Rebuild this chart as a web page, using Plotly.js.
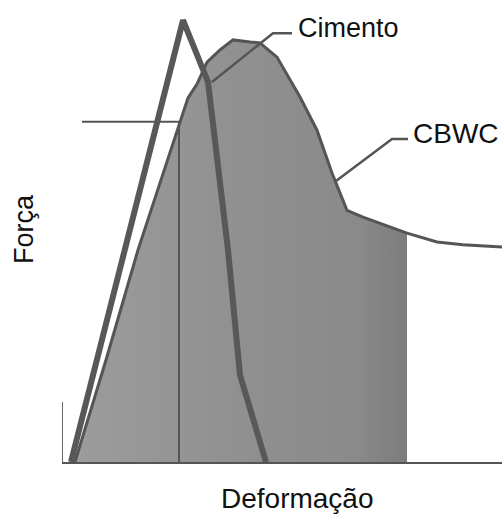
<!DOCTYPE html>
<html>
<head>
<meta charset="utf-8">
<script src="https://cdn.plot.ly/plotly-3.0.1.min.js"></script>
<style>html,body{margin:0;padding:0;background:#fff;}#chart{width:502px;height:514px;}</style>
</head>
<body>
<div id="chart"></div>
<script>
// Deformação (x) and Força (y), arbitrary units
const cimentoX = [0.225, 3.025, 3.65, 4.15, 4.45, 5.1];
const cimentoY = [0, 10.52, 9.05, 5.05, 2.07, 0];

const cbwcX = [0.325, 1.1, 1.9, 2.95, 3.15, 3.375, 3.625, 3.95, 4.275, 4.7, 4.95, 5.375, 5.525, 5.95, 6.375, 6.75, 7.125, 7.525, 8.625, 9.375, 10.025, 11.0];
const cbwcY = [0, 2.43, 5.05, 8.1, 8.67, 9.0, 9.52, 9.81, 10.05, 10.0, 9.98, 9.64, 9.4, 8.69, 7.9, 6.88, 5.99, 5.83, 5.45, 5.24, 5.17, 5.12];
const fillEndX = 8.625;

// reference (yield) line and short y-axis stub
const refLineX = [0.5, 2.95, 2.925, 2.925];
const refLineY = [8.1, 8.1, 8.1, 0];
const axisStubX = [0, 0];
const axisStubY = [0, 1.43];

// label pointers
const cimentoPtrX = [5.75, 5.275, 3.75];
const cimentoPtrY = [10.21, 10.21, 9.05];
const cbwcPtrX = [8.65, 8.25, 6.825];
const cbwcPtrY = [7.69, 7.69, 6.67];

const labels = {cimento: 'Cimento', cbwc: 'CBWC', x: 'Deformação', y: 'Força'};

const fillX = cbwcX.filter(v => v <= fillEndX);
const fillY = cbwcY.slice(0, fillX.length);

const lineCol = '#555555';
const traces = [
  {x: fillX, y: fillY, mode: 'lines', line: {width: 0}, fill: 'tozeroy', fillcolor: '#8e8e8e',
   fillgradient: {type: 'horizontal', colorscale: [[0, '#9c9c9c'], [0.5, '#909090'], [0.85, '#8a8a8a'], [1, '#7c7c7c']]},
   hoverinfo: 'skip'},
  {x: cbwcX, y: cbwcY, mode: 'lines', line: {color: lineCol, width: 3}},
  {x: refLineX, y: refLineY, mode: 'lines', line: {color: lineCol, width: 2}},
  {x: axisStubX, y: axisStubY, mode: 'lines', line: {color: '#666', width: 2}},
  {x: cimentoPtrX, y: cimentoPtrY, mode: 'lines', line: {color: lineCol, width: 2.5}},
  {x: cbwcPtrX, y: cbwcPtrY, mode: 'lines', line: {color: lineCol, width: 2.5}},
  {x: cimentoX, y: cimentoY, mode: 'lines', line: {color: '#585858', width: 6}}
];

const font = {family: 'Liberation Sans, Arial, sans-serif', size: 27, color: '#111'};
const fontX = {family: 'Liberation Sans, Arial, sans-serif', size: 28, color: '#111'};
const layout = {
  width: 502, height: 514,
  margin: {l: 62, r: 0, t: 0, b: 52, pad: 0},
  paper_bgcolor: '#fff', plot_bgcolor: '#fff',
  showlegend: false,
  xaxis: {range: [0, 11], showgrid: false, zeroline: false, showticklabels: false, ticks: '',
          showline: true, linecolor: '#555', linewidth: 2, fixedrange: true},
  yaxis: {range: [0, 11], showgrid: false, zeroline: false, showticklabels: false, ticks: '',
          showline: false, fixedrange: true},
  annotations: [
    {x: 5.85, y: 10.345, xref: 'x', yref: 'y', text: labels.cimento, showarrow: false, xanchor: 'left', yanchor: 'middle', font: font},
    {x: 8.72, y: 7.83, xref: 'x', yref: 'y', text: labels.cbwc, showarrow: false, xanchor: 'left', yanchor: 'middle', font: fontX},
    {x: 0.536, y: -0.078, xref: 'paper', yref: 'paper', text: labels.x, showarrow: false, xanchor: 'center', yanchor: 'middle', font: fontX},
    {x: -0.088, y: 0.505, xref: 'paper', yref: 'paper', text: labels.y, showarrow: false, textangle: -90, xanchor: 'center', yanchor: 'middle', font: font}
  ]
};
Plotly.newPlot('chart', traces, layout, {staticPlot: true, displayModeBar: false});
</script>
</body>
</html>
